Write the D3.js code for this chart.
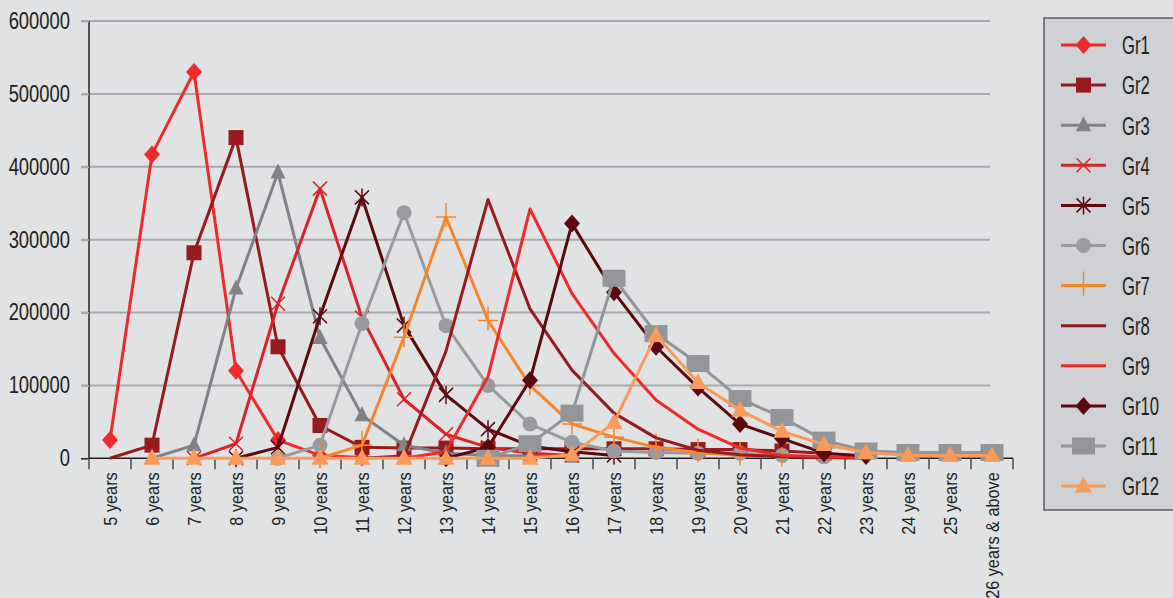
<!DOCTYPE html>
<html>
<head>
<meta charset="utf-8">
<script src="https://cdn.jsdelivr.net/npm/d3@7/dist/d3.min.js"></script>
<style>
  html, body { margin: 0; padding: 0; background: #e1e2e4; }
  svg { display: block; }
  text { font-family: "Liberation Sans", Arial, sans-serif; fill: #231f20; }
</style>
</head>
<body>
<svg id="svg1" width="1173" height="598"></svg>
<script>
var ages = ["5 years", "6 years", "7 years", "8 years", "9 years", "10 years", "11 years",
  "12 years", "13 years", "14 years", "15 years", "16 years", "17 years", "18 years",
  "19 years", "20 years", "21 years", "22 years", "23 years", "24 years", "25 years",
  "26 years & above"];

var yTicks = [0, 100000, 200000, 300000, 400000, 500000, 600000];

var seriesNames = ["Gr1", "Gr2", "Gr3", "Gr4", "Gr5", "Gr6", "Gr7", "Gr8", "Gr9", "Gr10", "Gr11", "Gr12"];

// one value per age, null where the grade has no point
var gr1 = [25000, 417000, 530000, 120000, 25000, 4000, 1000, null, null, null, null, null, null, null, null, null, null, null, null, null, null, null];
var gr2 = [0, 18000, 282000, 440000, 153000, 45000, 15000, 14000, 14000, 13000, 13000, 13000, 13000, 13000, 12000, 12000, 10000, 7000, null, null, null, null];
var gr3 = [null, 0, 18000, 233000, 392000, 165000, 59000, 18000, 7000, 4000, 3000, 2000, null, null, null, null, null, null, null, null, null, null];
var gr4 = [null, null, 0, 20000, 212000, 370000, 193000, 81000, 33000, 15000, 7000, 4000, null, null, null, null, null, null, null, null, null, null];
var gr5 = [null, null, null, 0, 15000, 195000, 358000, 182000, 87000, 40000, 17000, 9000, 4000, null, null, null, null, null, null, null, null, null];
var gr6 = [null, null, null, null, 0, 18000, 185000, 337000, 182000, 100000, 47000, 22000, 10000, 8000, 7000, 7000, 4000, 2000, null, null, null, null];
var gr7 = [null, null, null, null, null, 0, 18000, 166000, 331000, 189000, 100000, 47000, 29000, 15000, 8000, 4000, 2000, null, null, null, null, null];
var gr8 = [null, null, null, null, null, null, 0, 3000, 147000, 355000, 205000, 121000, 62000, 28000, 11000, 5000, 2000, 1000, 0, null, null, null];
var gr9 = [null, null, null, null, null, null, null, 0, 9000, 112000, 342000, 226000, 144000, 80000, 40000, 14000, 4000, 2000, 1000, null, null, null];
var gr10 = [null, null, null, null, null, null, null, null, 0, 15000, 107000, 322000, 228000, 153000, 97000, 47000, 27000, 7000, 3000, null, null, null];
var gr11 = [null, null, null, null, null, null, null, null, null, 0, 20000, 62000, 247000, 171000, 130000, 82000, 56000, 25000, 10000, 8000, 8000, 8000];
var gr12 = [null, 0, 0, 0, 0, 0, 0, 0, 0, 0, 0, 5000, 49000, 169000, 104000, 66000, 37000, 19000, 8000, 4000, 4000, 4000];

var seriesValues = [gr1, gr2, gr3, gr4, gr5, gr6, gr7, gr8, gr9, gr10, gr11, gr12];

var seriesColors = ["#ee2a2a", "#951b1e", "#808285", "#d7242a", "#5c0a10", "#9a9b9e",
  "#f5872a", "#941b1f", "#ee2a2a", "#5b0810", "#939598", "#f89b5b"];
var seriesMarkers = ["diamond", "square", "triangle", "x", "asterisk", "circle",
  "plus", "none", "none", "diamond", "rect", "triangleBig"];
// first index that carries a marker (Gr2 starts its line without one)
var firstMarker = [0, 1, 0, 0, 0, 0, 0, 0, 0, 0, 0, 0];

var translate = function(x, y) {
  return "translate(" + String(x) + ", " + String(y) + ")";
};

// marker paths, centred on 0,0
var markerPath = function(type) {
  switch (type) {
    case "diamond": return "M0,-9L8,0L0,9L-8,0Z";
    case "square": return "M-7.5,-7.5H7.5V7.5H-7.5Z";
    case "rect": return "M-11.5,-8.5H11.5V8.5H-11.5Z";
    case "triangle": return "M0,-9L7.5,6L-7.5,6Z";
    case "triangleBig": return "M0,-9.5L8.5,6.5L-8.5,6.5Z";
    case "x": return "M-7,-7L7,7M-7,7L7,-7";
    case "asterisk": return "M-7,-7L7,7M-7,7L7,-7M0,-9V9";
    case "plus": return "M-10,0H10M0,-14V10";
    default: return null;
  }
};
var isStroked = function(type) {
  return type == "x" || type == "asterisk" || type == "plus";
};

var svg = d3.select("body").select("svg#svg1");

var plotLeft = 89;
var plotRight = 1013;

var xScale = d3.scaleBand()
  .domain(ages)
  .range([plotLeft, plotRight])
  .padding(0);

var yScale = d3.scaleLinear()
  .domain([0, 600000])
  .range([458.3, 21]);

var xCenter = function(i) { return xScale(ages[i]) + xScale.bandwidth() / 2; };

/* gridlines */
svg.append("g")
  .attr("class", "grid")
  .selectAll("line")
  .data(yTicks.filter(function(d) { return d > 0; }))
  .enter()
  .append("line")
  .attr("x1", 81)
  .attr("x2", 990)
  .attr("y1", function(d) { return yScale(d); })
  .attr("y2", function(d) { return yScale(d); })
  .attr("stroke", "#a7a9ac")
  .attr("stroke-width", 2);

/* y axis */
var yAxis = d3.axisLeft(yScale)
  .tickValues(yTicks)
  .tickSize(8)
  .tickFormat(d3.format("d"));

var yG = svg.append("g")
  .attr("id", "y-axis")
  .attr("transform", translate(plotLeft, 0))
  .call(yAxis);
yG.select(".domain").attr("stroke", "#231f20").attr("stroke-width", 1.5).attr("d", "M0," + yScale(600000) + "V" + yScale(0));
yG.selectAll(".tick line").attr("stroke", "#a7a9ac").attr("stroke-width", 2);
yG.selectAll(".tick").filter(function(d) { return d == 0; }).select("line").attr("stroke", "#231f20").attr("stroke-width", 1.5);
// condensed look: squeeze the glyphs horizontally
yG.selectAll(".tick text")
  .attr("font-size", 23)
  .style("font-family", "'Liberation Sans', Arial, sans-serif")
  .attr("fill", "#231f20")
  .attr("x", 0)
  .attr("transform", "translate(-19, 0) scale(0.8, 1)");

/* x axis: labels at band centres, ticks at band edges */
var xAxis = d3.axisBottom(xScale).tickSize(0).tickPadding(0);
var xG = svg.append("g")
  .attr("id", "x-axis")
  .attr("transform", translate(0, yScale(0)))
  .call(xAxis);
xG.select(".domain").attr("stroke", "#231f20").attr("stroke-width", 1.5).attr("d", "M" + plotLeft + ",0H" + plotRight);
xG.selectAll(".tick text")
  .attr("font-size", 18.5)
  .style("font-family", "'Liberation Sans', Arial, sans-serif")
  .attr("fill", "#231f20")
  .attr("text-anchor", "end")
  .attr("y", 0)
  .attr("dy", "0.35em")
  .attr("transform", "translate(1, 14) rotate(-90) scale(0.88, 1)");

var edges = ages.map(function(d) { return xScale(d); }).concat([plotRight]);
xG.selectAll("line.edge")
  .data(edges)
  .enter()
  .append("line")
  .attr("class", "edge")
  .attr("x1", function(d) { return d; })
  .attr("x2", function(d) { return d; })
  .attr("y1", 0)
  .attr("y2", 11)
  .attr("stroke", "#4d4d4f")
  .attr("stroke-width", 1.5);

/* lines and markers */
var line = d3.line()
  .defined(function(d) { return d != null; })
  .x(function(d, i) { return xCenter(i); })
  .y(function(d) { return yScale(d); });

var plot = svg.append("g").attr("id", "plot");

seriesValues.forEach(function(values, k) {
  var color = seriesColors[k];
  var type = seriesMarkers[k];
  var g = plot.append("g").attr("class", "series");
  g.append("path")
    .attr("d", line(values))
    .attr("fill", "none")
    .attr("stroke", color)
    .attr("stroke-width", 3)
    .attr("stroke-linejoin", "round");

  if (type == "none") return;
  var pts = values.map(function(v, i) { return {v: v, i: i}; })
    .filter(function(d) { return d.v != null && d.i >= firstMarker[k]; });
  if (type == "circle") {
    g.selectAll("circle")
      .data(pts)
      .enter()
      .append("circle")
      .attr("cx", function(d) { return xCenter(d.i); })
      .attr("cy", function(d) { return yScale(d.v); })
      .attr("r", 7.5)
      .attr("fill", color);
    return;
  }
  g.selectAll("path.marker")
    .data(pts)
    .enter()
    .append("path")
    .attr("class", "marker")
    .attr("transform", function(d) { return translate(xCenter(d.i), yScale(d.v)); })
    .attr("d", markerPath(type))
    .attr("fill", isStroked(type) ? "none" : color)
    .attr("stroke", isStroked(type) ? color : "none")
    .attr("stroke-width", 1.5);
});

/* legend */
var legend = svg.append("g").attr("id", "legend");
legend.append("rect")
  .attr("x", 1044)
  .attr("y", 18)
  .attr("width", 140)
  .attr("height", 492)
  .attr("fill", "#cfd1d4")
  .attr("stroke", "#58595b")
  .attr("stroke-width", 1.5);

var items = legend.selectAll("g.item")
  .data(seriesNames)
  .enter()
  .append("g")
  .attr("class", "item")
  .attr("transform", function(d, i) { return translate(1061, 45 + i * 40.1); });

items.append("line")
  .attr("x1", 0)
  .attr("x2", 45)
  .attr("y1", 0)
  .attr("y2", 0)
  .attr("stroke", function(d, i) { return seriesColors[i]; })
  .attr("stroke-width", 3);

items.each(function(d, i) {
  var type = seriesMarkers[i];
  var g = d3.select(this);
  if (type == "none") return;
  if (type == "circle") {
    g.append("circle").attr("cx", 22.5).attr("cy", 0).attr("r", 7.5).attr("fill", seriesColors[i]);
    return;
  }
  g.append("path")
    .attr("transform", translate(22.5, 0))
    .attr("d", markerPath(type))
    .attr("fill", isStroked(type) ? "none" : seriesColors[i])
    .attr("stroke", isStroked(type) ? seriesColors[i] : "none")
    .attr("stroke-width", 1.5);
});

items.append("text")
  .attr("transform", "translate(61, 0) scale(0.64, 1)")
  .attr("dy", "0.36em")
  .attr("font-size", 26)
  .text(function(d) { return d; });
</script>
</body>
</html>
